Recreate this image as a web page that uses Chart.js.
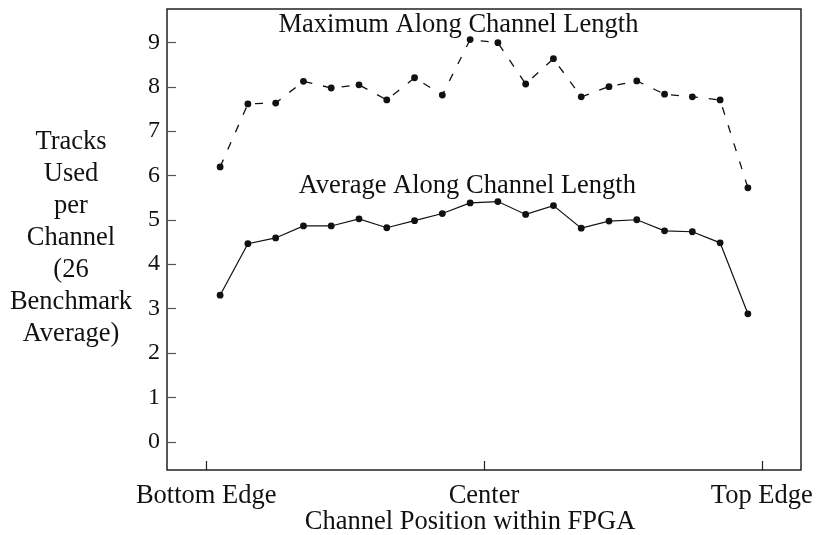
<!DOCTYPE html>
<html>
<head>
<meta charset="utf-8">
<script src="https://cdn.jsdelivr.net/npm/chart.js@4.4.1/dist/chart.umd.min.js"></script>
<style>
  html, body { margin: 0; padding: 0; background: #fff; }
  #wrap { width: 817px; height: 535px; }
</style>
</head>
<body>
<div id="wrap"><canvas id="chart" width="817" height="535"></canvas></div>
<script>
// Channel positions across the FPGA (0 = bottom edge, 1 = top edge)
const positions = [0.025, 0.075, 0.125, 0.175, 0.225, 0.275, 0.325, 0.375, 0.425, 0.475,
                   0.525, 0.575, 0.625, 0.675, 0.725, 0.775, 0.825, 0.875, 0.925, 0.975];
// Maximum tracks used along channel length
const maxTracks = [6.19, 7.61, 7.63, 8.12, 7.97, 8.04, 7.70, 8.20, 7.81, 9.06,
                   8.99, 8.06, 8.63, 7.77, 8.00, 8.13, 7.83, 7.77, 7.70, 5.72];
// Average tracks used along channel length
const avgTracks = [3.30, 4.46, 4.59, 4.86, 4.86, 5.02, 4.82, 4.98, 5.14, 5.38,
                   5.41, 5.12, 5.32, 4.81, 4.97, 5.00, 4.75, 4.73, 4.48, 2.88];
// Axis ticks
const xTickValues = [0, 0.5, 1];
const xTickLabels = ["Bottom Edge", "Center", "Top Edge"];
const yTickValues = [0, 1, 2, 3, 4, 5, 6, 7, 8, 9];
const yTitleLines = ["Tracks", "Used", "per", "Channel", "(26", "Benchmark", "Average)"];
const xTitle = "Channel Position within FPGA";

const FONT = "'Liberation Serif', 'Times New Roman', serif";
const INK = "#111";

const toPoints = (ys) => positions.map((x, i) => ({ x: x, y: ys[i] }));

// Draws the frame, inward ticks, in-plot labels and axis titles
const decorations = {
  id: "decorations",
  afterDraw(chart) {
    const ctx = chart.ctx;
    const a = chart.chartArea;
    const xs = chart.scales.x, ys = chart.scales.y;
    ctx.save();
    // box
    ctx.strokeStyle = "#222";
    ctx.lineWidth = 1.5;
    ctx.strokeRect(a.left, a.top, a.right - a.left, a.bottom - a.top);
    // inward ticks on y
    ctx.strokeStyle = "#555";
    ctx.lineWidth = 1.2;
    yTickValues.forEach(v => {
      const y = Math.round(ys.getPixelForValue(v)) + 0.5;
      ctx.beginPath(); ctx.moveTo(a.left, y); ctx.lineTo(a.left + 9, y); ctx.stroke();
    });
    // inward ticks on x
    ctx.strokeStyle = "#222";
    xTickValues.forEach(v => {
      const x = Math.round(xs.getPixelForValue(v)) + 0.5;
      ctx.beginPath(); ctx.moveTo(x, a.bottom); ctx.lineTo(x, a.bottom - 9); ctx.stroke();
    });
    // series labels
    ctx.fillStyle = INK;
    ctx.font = "26.5px " + FONT;
    ctx.textAlign = "center";
    ctx.textBaseline = "alphabetic";
    ctx.fillText("Maximum Along Channel Length", xs.getPixelForValue(0.454), ys.getPixelForValue(9.23));
    ctx.fillText("Average Along Channel Length", xs.getPixelForValue(0.470), ys.getPixelForValue(5.61));
    // y title, horizontal lines
    ctx.textBaseline = "middle";
    yTitleLines.forEach((t, i) => ctx.fillText(t, 71, 142 + i * 32));
    // x title
    ctx.fillText(xTitle, 470, 522);
    ctx.restore();
  }
};

new Chart(document.getElementById("chart"), {
  type: "line",
  plugins: [decorations],
  data: {
    datasets: [
      {
        label: "Maximum Along Channel Length",
        data: toPoints(maxTracks),
        borderColor: INK,
        backgroundColor: INK,
        borderWidth: 1.3,
        borderDash: [8, 11],
        pointRadius: 3.4,
        pointBorderWidth: 0,
        tension: 0,
      },
      {
        label: "Average Along Channel Length",
        data: toPoints(avgTracks),
        borderColor: INK,
        backgroundColor: INK,
        borderWidth: 1.2,
        pointRadius: 3.4,
        pointBorderWidth: 0,
        tension: 0,
      },
    ],
  },
  options: {
    responsive: false,
    animation: false,
    layout: { padding: { left: 0, top: 9, right: 16, bottom: 0 } },
    plugins: { legend: { display: false }, tooltip: { enabled: false } },
    scales: {
      x: {
        type: "linear",
        min: -0.0706,
        max: 1.0706,
        afterBuildTicks: (s) => { s.ticks = xTickValues.map(v => ({ value: v })); },
        afterFit: (s) => { s.height = 65; s.paddingLeft = 0; s.paddingRight = 0; },
        grid: { display: false, drawTicks: false },
        border: { display: false },
        ticks: {
          padding: 10,
          maxRotation: 0,
          autoSkip: false,
          color: INK,
          font: { family: FONT, size: 26.5 },
          callback: (v, i) => xTickLabels[i],
        },
      },
      y: {
        min: -0.64,
        max: 9.75,
        afterBuildTicks: (s) => { s.ticks = yTickValues.map(v => ({ value: v })); },
        afterFit: (s) => { s.width = 167; s.paddingTop = 0; s.paddingBottom = 0; },
        grid: { display: false, drawTicks: false },
        border: { display: false },
        ticks: {
          padding: 7,
          color: INK,
          font: { family: FONT, size: 24 },
        },
      },
    },
  },
});
</script>
</body>
</html>
